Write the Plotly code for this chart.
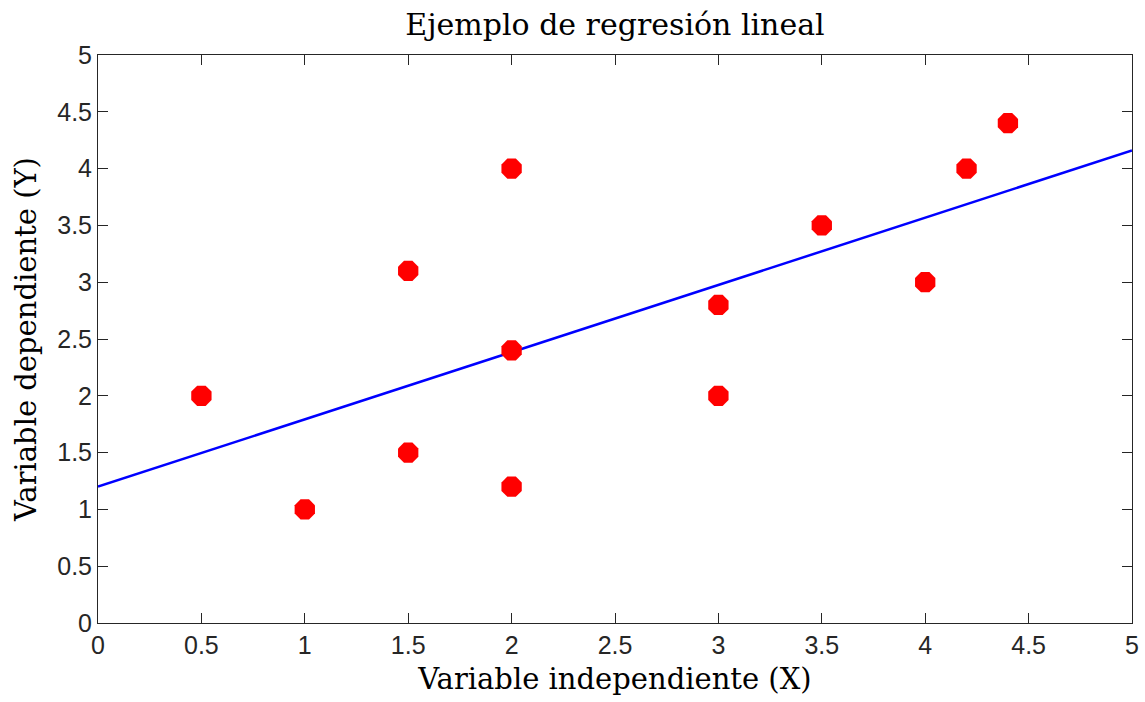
import numpy as np
import plotly.graph_objects as go

x_vals = [0.5, 1, 1.5, 1.5, 2, 2, 2, 3, 3, 3.5, 4, 4.2, 4.4]
y_vals = [2, 1, 3.1, 1.5, 4, 2.4, 1.2, 2.8, 2, 3.5, 3, 4, 4.4]
tick_vals = [0, 0.5, 1, 1.5, 2, 2.5, 3, 3.5, 4, 4.5, 5]
tick_text = ["0", "0.5", "1", "1.5", "2", "2.5", "3", "3.5", "4", "4.5", "5"]

slope, intercept = np.polyfit(x_vals, y_vals, 1)
line_x = [0, 5]
line_y = [intercept + slope * v for v in line_x]

fig = go.Figure()
fig.add_trace(go.Scatter(x=line_x, y=line_y, mode="lines",
                         line=dict(color="#0000ff", width=2.5), showlegend=False))
fig.add_trace(go.Scatter(x=x_vals, y=y_vals, mode="markers",
                         marker=dict(symbol="octagon", size=22, color="#ff0000",
                                     line=dict(width=0)), showlegend=False))

serif = "DejaVu Serif"
sans = "Liberation Sans"
axis_common = dict(range=[0, 5], tickvals=tick_vals, ticktext=tick_text,
                   ticks="inside", ticklen=10, tickwidth=1, tickcolor="#262626",
                   showline=True, linecolor="#262626", linewidth=1, mirror="ticks",
                   showgrid=False, zeroline=False, automargin=False,
                   tickfont=dict(family=sans, size=25, color="#262626"))

fig.update_layout(
    width=1145, height=702,
    margin=dict(l=98, r=13, t=55, b=79),
    paper_bgcolor="white", plot_bgcolor="white",
    title=dict(text="Ejemplo de regresión lineal", x=0.5, xanchor="center",
               xref="paper", y=1 - 24 / 702, yref="container", yanchor="middle",
               font=dict(family=serif, size=30, color="black")),
    xaxis=dict(**axis_common,
               title=dict(text="Variable independiente (X)", standoff=10,
                          font=dict(family=serif, size=29, color="black"))),
    yaxis=dict(**axis_common,
               title=dict(text="Variable dependiente (Y)", standoff=12,
                          font=dict(family=serif, size=29, color="black"))),
)

fig.write_html("out.html")
